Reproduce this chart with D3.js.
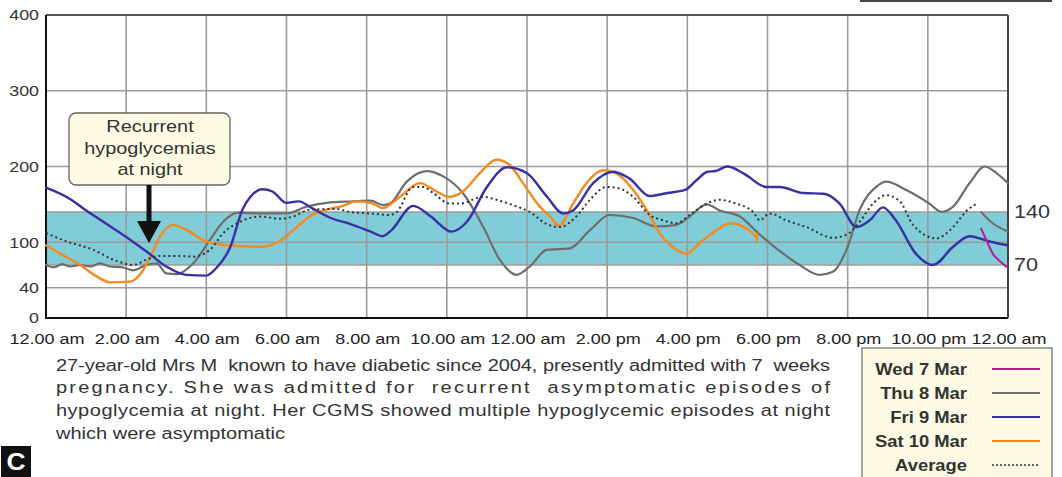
<!DOCTYPE html>
<html><head><meta charset="utf-8">
<script src="https://cdn.jsdelivr.net/npm/d3@7"></script>
<style>body{margin:0;background:#fff}svg{display:block;font-family:Arial,"Liberation Sans",sans-serif}</style>
</head><body><svg id="c" width="1062" height="477"></svg>
<script>
// ---- data (hour of day, glucose mg/dL) ----
const wed7 = [[23.33,118],[23.46,103],[23.62,85],[23.8,75],[24,66]];
const thu8 = [[0,70],[0.2,67],[0.4,71],[0.6,68],[0.85,70],[1.1,68],[1.35,72],[1.6,68],[1.9,67],[2.17,63],[2.5,70],[2.76,72],[3.0,59],[3.26,58],[3.67,72],[4.09,103],[4.42,127],[4.8,139],[5.34,138],[6.0,138],[6.5,147],[7.0,152],[7.66,154],[8.1,155],[8.41,149],[8.58,151],[9.0,180],[9.49,194],[9.91,187],[10.4,165],[10.9,121],[11.32,77],[11.74,57],[12.07,68],[12.49,90],[13.07,92],[13.57,116],[14.06,136],[14.65,132],[15.23,121],[15.73,123],[16.06,134],[16.48,150],[16.81,142],[17.31,134],[17.81,110],[18.22,92],[18.8,70],[19.3,57],[19.63,61],[20.0,94],[20.3,143],[20.71,173],[20.96,180],[21.46,169],[22.04,151],[22.34,140],[22.63,147],[23.04,178],[23.42,200],[23.72,191],[24,178]];
const thu8Tail = [[23.33,140],[23.62,125],[24,114]];
const fri9 = [[0,172],[0.6,157],[0.92,145],[1.4,128],[2.0,107],[2.5,88],[3.0,68],[3.5,57],[4.0,56],[4.25,66],[4.6,94],[4.9,143],[5.1,160],[5.4,170],[5.65,167],[6.0,152],[6.3,154],[6.67,144],[7.1,132],[7.6,124],[8.1,114],[8.4,108],[8.6,115],[9.16,148],[9.6,134],[10.12,114],[10.5,127],[11.0,173],[11.5,199],[12.0,191],[12.5,160],[12.9,138],[13.15,142],[13.65,178],[14.15,193],[14.56,184],[15.06,161],[15.5,165],[15.94,169],[16.23,182],[16.5,193],[16.7,194],[17.0,200],[17.4,191],[17.97,173],[18.3,173],[18.9,165],[19.4,164],[19.8,151],[20.22,120],[20.55,129],[20.88,146],[21.2,129],[21.7,85],[22.13,70],[22.63,94],[23.04,108],[23.54,101],[24,96]];
const sat10 = [[0,96],[0.35,85],[0.85,70],[1.26,55],[1.6,47],[2.09,48],[2.34,57],[2.59,79],[2.84,107],[3.17,123],[3.51,116],[4.0,101],[4.5,96],[5.34,94],[5.75,99],[6.17,116],[6.58,134],[7.0,143],[7.41,148],[7.75,154],[8.16,151],[8.4,145],[8.83,160],[9.33,178],[9.74,167],[10.07,160],[10.4,167],[10.82,191],[11.24,209],[11.57,202],[11.9,178],[12.32,147],[12.57,134],[12.8,122],[13.15,151],[13.48,178],[13.9,195],[14.23,191],[14.65,169],[14.98,143],[15.31,112],[15.73,90],[15.98,85],[16.31,99],[16.73,116],[17.06,125],[17.39,121],[17.74,106]];
const average = [[0,112],[0.52,101],[1.18,90],[1.68,77],[2.18,70],[2.51,77],[2.84,82],[3.34,82],[3.67,81],[4.09,90],[4.42,112],[4.84,127],[5.34,134],[5.84,131],[6.17,134],[6.58,143],[7.25,144],[7.58,140],[8.08,138],[8.58,136],[8.75,140],[9.16,173],[9.41,173],[9.66,165],[10.07,151],[10.32,151],[10.9,160],[11.24,156],[11.65,149],[12.07,140],[12.49,124],[12.82,120],[13.23,134],[13.57,156],[13.98,173],[14.31,171],[14.65,160],[15.06,136],[15.39,129],[15.73,125],[16.06,136],[16.48,151],[16.81,156],[17.22,151],[17.64,140],[17.81,129],[18.05,138],[18.47,129],[18.97,120],[19.63,106],[19.97,110],[20.3,127],[20.63,151],[20.96,162],[21.3,154],[21.63,123],[22.21,105],[22.63,120],[22.96,141],[23.25,152]];

const xTickHours = [0,2,4,6,8,10,12,14,16,18,20,22,24];
const xTickLabels = ["12.00 am","2.00 am","4.00 am","6.00 am","8.00 am","10.00 am","12.00 am","2.00 pm","4.00 pm","6.00 pm","8.00 pm","10.00 pm","12.00 am"];
const yTicks = [0,40,100,200,300,400];
const yGrid = [40,70,100,140,200,300];
const targetRange = [70,140];
const legendLabels = ["Wed 7 Mar","Thu 8 Mar","Fri 9 Mar","Sat 10 Mar","Average"];
const annotationLines = ["Recurrent","hypoglycemias","at night"];
const captionLines = [
 "27-year-old Mrs M  known to have diabetic since 2004, presently admitted with 7  weeks",
 "pregnancy. She was admitted for  recurrent  asymptomatic episodes of",
 "hypoglycemia at night. Her CGMS showed multiple hypoglycemic episodes at night",
 "which were asymptomatic"];

// ---- layout ----
const svg = d3.select("#c");
const L=46, R=1008, T=15, B=318;
const SX = 1.2; // horizontal stretch of the original typography
const x = d3.scaleLinear().domain([0,24]).range([L,R]);
const y = d3.scaleLinear().domain([0,400]).range([B,T]);
const C = {wed:"#b21f93", thu:"#6e6e6e", fri:"#3a30a6", sat:"#f7891f", avg:"#333", grid:"#9b9b9b", band:"#80cdd7"};
const tr = (px,py,s)=>`translate(${px},${py}) scale(${s||SX},1)`;

// top-right fragment bar
svg.append("line").attr("x1",860).attr("x2",1052).attr("y1",1).attr("y2",1).attr("stroke","#444").attr("stroke-width",2);

// band
svg.append("rect").attr("x",L).attr("width",R-L).attr("y",y(targetRange[1])).attr("height",y(targetRange[0])-y(targetRange[1])).attr("fill",C.band);

// grid
svg.append("g").selectAll("line").data(yGrid).join("line")
  .attr("x1",L).attr("x2",R).attr("y1",d=>y(d)).attr("y2",d=>y(d))
  .attr("stroke",C.grid).attr("stroke-width",1.6);
svg.append("g").selectAll("line").data(xTickHours.slice(1,-1)).join("line")
  .attr("x1",d=>x(d)).attr("x2",d=>x(d)).attr("y1",T).attr("y2",B)
  .attr("stroke",C.grid).attr("stroke-width",1.6);

// frame
svg.append("line").attr("x1",L).attr("x2",R).attr("y1",T).attr("y2",T).attr("stroke","#555").attr("stroke-width",2);
svg.append("line").attr("x1",R).attr("x2",R).attr("y1",T).attr("y2",B).attr("stroke","#444").attr("stroke-width",2);
svg.append("line").attr("x1",L).attr("x2",L).attr("y1",T).attr("y2",B+1).attr("stroke","#111").attr("stroke-width",2);
svg.append("line").attr("x1",L).attr("x2",R).attr("y1",B).attr("y2",B).attr("stroke","#111").attr("stroke-width",2);

// y tick labels
svg.append("g").selectAll("text").data(yTicks).join("text")
  .attr("transform",d=>tr(39,y(d),1.15)).attr("dy","0.35em").attr("text-anchor","end")
  .attr("font-size",15.5).attr("fill","#333").text(d=>d);
// x tick labels
svg.append("g").selectAll("text").data(xTickHours).join("text")
  .attr("transform",d=>tr(x(d)+1,344)).attr("text-anchor","middle")
  .attr("font-size",15).attr("fill","#222").text((d,i)=>xTickLabels[i]);
// right labels
svg.append("g").selectAll("text").data([140,70]).join("text")
  .attr("transform",d=>tr(1014,y(d))).attr("dy","0.35em")
  .attr("font-size",18).attr("fill","#333").text(d=>d);

// lines
const line = d3.line().x(d=>x(d[0])).y(d=>y(d[1])).curve(d3.curveMonotoneX);
const series = [
  {d:thu8,c:C.thu,w:2.2},{d:thu8Tail,c:C.thu,w:2},
  {d:sat10,c:C.sat,w:2.4},{d:fri9,c:C.fri,w:2.4},
  {d:average,c:C.avg,w:2,dash:"2,3"},{d:wed7,c:C.wed,w:2}
];
svg.append("g").selectAll("path").data(series).join("path")
  .attr("d",s=>line(s.d)).attr("fill","none").attr("stroke",s=>s.c)
  .attr("stroke-width",s=>s.w).attr("stroke-dasharray",s=>s.dash||null)
  .attr("stroke-linejoin","round").attr("stroke-linecap",s=>s.dash?"butt":"round");
// end tick on Sat line
const satLast = sat10[sat10.length-1];
svg.append("line").attr("x1",x(satLast[0])).attr("x2",x(satLast[0]))
  .attr("y1",y(satLast[1])-5).attr("y2",y(satLast[1])+5).attr("stroke",C.sat).attr("stroke-width",2);

// annotation
const ann = svg.append("g");
ann.append("rect").attr("x",69).attr("y",113).attr("width",161).attr("height",72).attr("rx",7)
  .attr("fill","#fdfbe4").attr("stroke","#666").attr("stroke-width",1.3);
ann.selectAll("text").data(annotationLines).join("text")
  .attr("transform",(d,i)=>tr(150,132+i*21.5,1.17)).attr("text-anchor","middle")
  .attr("font-size",17).attr("fill","#333").text(d=>d);
ann.append("rect").attr("x",146.5).attr("y",185).attr("width",5).attr("height",38).attr("fill","#111");
ann.append("path").attr("d","M137,221 L161,221 L149,243 Z").attr("fill","#111");

// caption
svg.append("g").selectAll("text").data(captionLines).join("text")
  .attr("transform",(d,i)=>tr(56,370.5+i*22.7,1.25)).attr("font-size",16).attr("fill","#333")
  .attr("textLength",(d,i)=>i<3?774/1.25:null).attr("lengthAdjust","spacing")
  .attr("xml:space","preserve").text(d=>d);

// legend
const lg = svg.append("g");
lg.append("rect").attr("x",862).attr("y",348).attr("width",190).attr("height",135)
  .attr("fill","#fdfbe4").attr("stroke","#777").attr("stroke-width",1.3);
const lgStyle = [{c:C.wed},{c:C.thu},{c:C.fri},{c:C.sat},{c:C.avg,dash:"2,2"}];
lg.selectAll("text").data(legendLabels).join("text")
  .attr("transform",(d,i)=>tr(967,375+i*24,1.15)).attr("text-anchor","end")
  .attr("font-size",16).attr("font-weight","bold").attr("fill","#333").text(d=>d);
lg.selectAll("line").data(legendLabels).join("line")
  .attr("x1",992).attr("x2",1040).attr("y1",(d,i)=>369+i*24).attr("y2",(d,i)=>369+i*24)
  .attr("stroke",(d,i)=>lgStyle[i].c).attr("stroke-width",(d,i)=>lgStyle[i].dash?1.5:2)
  .attr("stroke-dasharray",(d,i)=>lgStyle[i].dash||null);

// panel letter
svg.append("rect").attr("x",1).attr("y",446).attr("width",30).attr("height",31).attr("fill","#111");
svg.append("text").attr("transform",tr(16,470,1.15)).attr("text-anchor","middle").attr("font-size",23)
  .attr("font-weight","bold").attr("fill","#fff").text("C");
</script></body></html>
